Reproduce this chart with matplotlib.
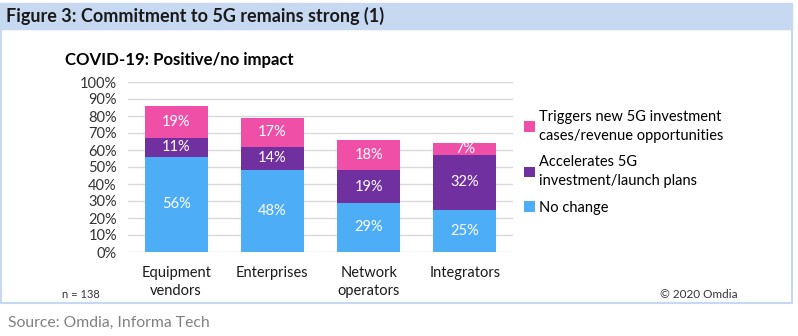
import matplotlib.pyplot as plt
import matplotlib.patches as mpatches
import numpy as np

plt.rcParams['font.family'] = ['Lato', 'DejaVu Sans']

categories = ['Equipment\nvendors', 'Enterprises', 'Network\noperators', 'Integrators']
no_change = [56, 48, 29, 25]
accelerates = [11, 14, 19, 32]
triggers = [19, 17, 18, 7]

series_names = ['Triggers new 5G investment\ncases/revenue opportunities',
                'Accelerates 5G\ninvestment/launch plans',
                'No change']
col_blue = '#4DADF7'
col_purple = '#7030A0'
col_pink = '#EF4FA6'

fig = plt.figure(figsize=(7.98, 3.36), dpi=100)

# header band and frame
fig.patches.append(mpatches.Rectangle((0, 1 - 29 / 336), 792 / 798, 26 / 336,
                                      transform=fig.transFigure, color='#C6D9F1', zorder=0))
fig.patches.append(mpatches.Rectangle((1 / 798, 1 - 303 / 336), 791 / 798, (303 - 29) / 336,
                                      transform=fig.transFigure, fill=False,
                                      edgecolor='#C6D9F1', linewidth=1.5, zorder=0))
fig.text(6 / 798, 1 - 16 / 336, 'Figure 3: Commitment to 5G remains strong (1)',
         fontsize=13, fontweight='bold', color='#1a1a1a', va='center')
fig.text(65 / 798, 1 - 60 / 336, 'COVID-19: Positive/no impact',
         fontsize=12.1, fontweight='bold', color='black', va='center')

ax = fig.add_axes([128 / 798, 1 - 252 / 336, 385 / 798, 170 / 336])
x = np.arange(len(categories))
w = 0.655
nc = np.array(no_change)
ac = np.array(accelerates)
tr = np.array(triggers)
b1 = ax.bar(x, nc, w, color=col_blue, zorder=3)
b2 = ax.bar(x, ac, w, bottom=nc, color=col_purple, zorder=3)
b3 = ax.bar(x, tr, w, bottom=nc + ac, color=col_pink, zorder=3)

for bottoms, vals in [(np.zeros(4), nc), (nc, ac), (nc + ac, tr)]:
    for xi, b, v in zip(x, bottoms, vals):
        ax.text(xi, b + v / 2, f'{v}%', ha='center', va='center',
                color='white', fontsize=10.5, zorder=4)

ax.set_xlim(-0.5, 3.5)
ax.set_ylim(0, 100)
ax.set_yticks(range(0, 101, 10))
ax.set_yticklabels([f'{t}%' for t in range(0, 101, 10)])
ax.set_xticks(x)
ax.set_xticklabels(categories, fontsize=10.5, linespacing=1.35)
ax.tick_params(axis='y', labelsize=10.5, length=0, pad=8, colors='#333333')
ax.tick_params(axis='x', length=0, pad=10, colors='#1a1a1a')
ax.grid(axis='y', color='#D9D9D9', linewidth=1, zorder=0)
for s in ax.spines.values():
    s.set_visible(False)

leg = fig.legend([b3, b2, b1], series_names, loc='upper left',
                 bbox_to_anchor=(518 / 798, 1 - 104 / 336), frameon=False,
                 fontsize=10.5, handlelength=0.75, handleheight=0.75,
                 handletextpad=0.3, labelspacing=0.85, borderaxespad=0)
for t in leg.get_texts():
    t.set_linespacing(1.45)

fig.text(81 / 798, 1 - 294 / 336, 'n = 138', fontsize=8, ha='center', va='center', color='#333333')
fig.text(738 / 798, 1 - 294 / 336, '© 2020 Omdia', fontsize=8.5, ha='right', va='center', color='#333333')
fig.text(8 / 798, 1 - 323 / 336, 'Source: Omdia, Informa Tech', fontsize=11.3, va='center', color='#808080')

fig.savefig('out.png', dpi=100)
